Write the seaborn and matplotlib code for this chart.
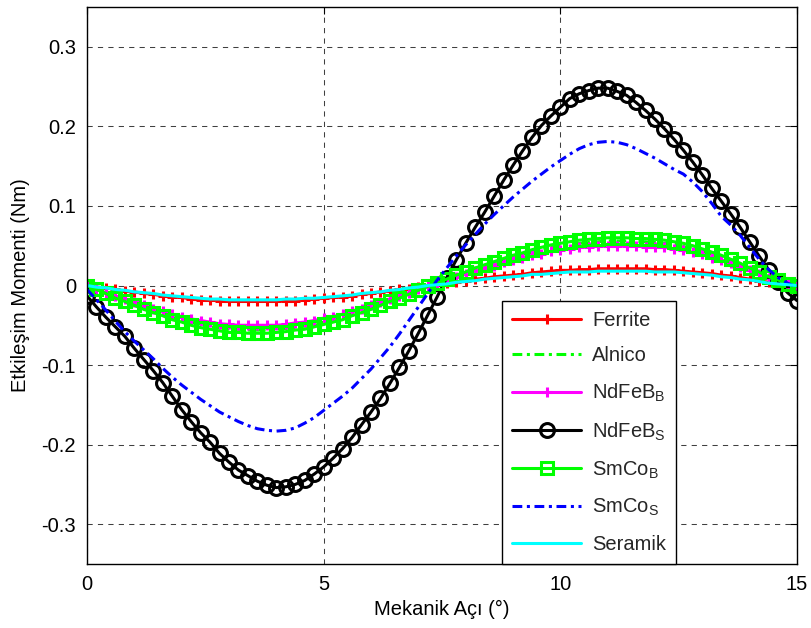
import numpy as np
import pandas as pd
import matplotlib
matplotlib.use("Agg")
import matplotlib.pyplot as plt
import seaborn as sns

# ---------------- data ----------------
aci = [round(0.2 * i, 1) for i in range(76)]  # mechanical angle grid (deg)

ferrite = [0, -0.002, -0.003, -0.005, -0.007, -0.008, -0.010, -0.011, -0.013, -0.014,
           -0.015, -0.017, -0.018, -0.018, -0.019, -0.020, -0.020, -0.020, -0.020, -0.020,
           -0.020, -0.019, -0.019, -0.018, -0.017, -0.016, -0.015, -0.014, -0.013, -0.011,
           -0.010, -0.008, -0.007, -0.005, -0.004, -0.002, 0.000, 0.001, 0.003, 0.004,
           0.006, 0.008, 0.009, 0.011, 0.012, 0.013, 0.014, 0.016, 0.017, 0.018,
           0.019, 0.019, 0.020, 0.020, 0.021, 0.021, 0.021, 0.021, 0.021, 0.021,
           0.020, 0.020, 0.019, 0.018, 0.017, 0.016, 0.015, 0.013, 0.012, 0.010,
           0.008, 0.006, 0.004, 0.002, 0.001, 0.000]

alnico = [0, -0.005, -0.010, -0.015, -0.019, -0.024, -0.028, -0.032, -0.036, -0.040,
          -0.043, -0.046, -0.049, -0.052, -0.053, -0.055, -0.055, -0.056, -0.056, -0.056,
          -0.055, -0.054, -0.053, -0.051, -0.049, -0.046, -0.043, -0.040, -0.036, -0.032,
          -0.028, -0.024, -0.019, -0.015, -0.010, -0.006, -0.001, 0.003, 0.007, 0.012,
          0.016, 0.020, 0.024, 0.028, 0.032, 0.035, 0.039, 0.042, 0.045, 0.048,
          0.050, 0.052, 0.053, 0.054, 0.055, 0.056, 0.056, 0.056, 0.055, 0.055,
          0.054, 0.053, 0.052, 0.049, 0.046, 0.043, 0.039, 0.035, 0.031, 0.026,
          0.021, 0.016, 0.011, 0.006, 0.002, -0.001]

ndfeb_b = [0, -0.005, -0.009, -0.013, -0.017, -0.021, -0.025, -0.029, -0.032, -0.036,
           -0.039, -0.042, -0.044, -0.046, -0.048, -0.049, -0.050, -0.050, -0.050, -0.050,
           -0.050, -0.049, -0.047, -0.046, -0.044, -0.041, -0.039, -0.036, -0.032, -0.029,
           -0.025, -0.021, -0.017, -0.013, -0.009, -0.005, -0.001, 0.003, 0.007, 0.011,
           0.014, 0.018, 0.022, 0.025, 0.029, 0.032, 0.035, 0.038, 0.040, 0.043,
           0.045, 0.046, 0.048, 0.049, 0.050, 0.050, 0.050, 0.050, 0.050, 0.049,
           0.049, 0.048, 0.046, 0.044, 0.042, 0.039, 0.035, 0.032, 0.028, 0.023,
           0.019, 0.014, 0.010, 0.006, 0.002, -0.001]

ndfeb_s = [-0.013, -0.027, -0.040, -0.052, -0.064, -0.079, -0.093, -0.107, -0.122, -0.139,
           -0.156, -0.171, -0.185, -0.197, -0.211, -0.222, -0.232, -0.239, -0.246, -0.251,
           -0.254, -0.253, -0.250, -0.245, -0.237, -0.228, -0.217, -0.205, -0.191, -0.175,
           -0.159, -0.142, -0.123, -0.103, -0.082, -0.060, -0.037, -0.014, 0.010, 0.032,
           0.053, 0.073, 0.092, 0.112, 0.132, 0.151, 0.169, 0.186, 0.201, 0.213,
           0.224, 0.235, 0.241, 0.245, 0.248, 0.248, 0.244, 0.239, 0.230, 0.220,
           0.209, 0.197, 0.184, 0.170, 0.155, 0.139, 0.122, 0.106, 0.090, 0.073,
           0.055, 0.037, 0.020, 0.004, -0.009, -0.019]

smco_b = [0, -0.005, -0.010, -0.016, -0.020, -0.025, -0.030, -0.034, -0.038, -0.043,
          -0.046, -0.050, -0.053, -0.055, -0.057, -0.059, -0.059, -0.060, -0.060, -0.060,
          -0.059, -0.058, -0.056, -0.055, -0.052, -0.049, -0.046, -0.043, -0.038, -0.034,
          -0.030, -0.025, -0.020, -0.016, -0.011, -0.006, -0.001, 0.003, 0.008, 0.013,
          0.017, 0.022, 0.026, 0.030, 0.034, 0.038, 0.041, 0.045, 0.048, 0.051,
          0.053, 0.055, 0.057, 0.058, 0.059, 0.060, 0.060, 0.060, 0.059, 0.059,
          0.058, 0.057, 0.055, 0.053, 0.050, 0.046, 0.042, 0.038, 0.033, 0.028,
          0.022, 0.017, 0.011, 0.007, 0.002, -0.001]

smco_s = [-0.005, -0.018, -0.031, -0.045, -0.058, -0.070, -0.081, -0.092, -0.104, -0.115,
          -0.125, -0.134, -0.143, -0.151, -0.159, -0.165, -0.171, -0.176, -0.180, -0.182,
          -0.183, -0.182, -0.179, -0.173, -0.166, -0.157, -0.148, -0.139, -0.129, -0.117,
          -0.105, -0.091, -0.077, -0.061, -0.044, -0.027, -0.010, 0.007, 0.022, 0.037,
          0.051, 0.064, 0.077, 0.089, 0.100, 0.111, 0.121, 0.131, 0.140, 0.149,
          0.157, 0.165, 0.172, 0.177, 0.180, 0.181, 0.180, 0.177, 0.172, 0.166,
          0.160, 0.153, 0.146, 0.140, 0.130, 0.118, 0.103, 0.087, 0.076, 0.063,
          0.048, 0.033, 0.020, 0.010, 0.003, -0.002]

seramik = [0, -0.002, -0.003, -0.005, -0.006, -0.008, -0.009, -0.010, -0.012, -0.013,
           -0.014, -0.015, -0.016, -0.017, -0.017, -0.018, -0.018, -0.018, -0.018, -0.018,
           -0.018, -0.017, -0.017, -0.016, -0.016, -0.015, -0.014, -0.013, -0.012, -0.010,
           -0.009, -0.008, -0.006, -0.005, -0.003, -0.002, 0.000, 0.001, 0.002, 0.004,
           0.005, 0.006, 0.008, 0.009, 0.010, 0.011, 0.012, 0.014, 0.014, 0.015,
           0.016, 0.017, 0.017, 0.017, 0.018, 0.018, 0.018, 0.018, 0.018, 0.018,
           0.017, 0.017, 0.017, 0.016, 0.015, 0.014, 0.013, 0.011, 0.010, 0.008,
           0.007, 0.005, 0.003, 0.002, 0.001, 0.000]

series_labels = ["Ferrite", "Alnico", r"NdFeB$_\mathregular{B}$", r"NdFeB$_\mathregular{S}$",
                 r"SmCo$_\mathregular{B}$", r"SmCo$_\mathregular{S}$", "Seramik"]
xticks = [0, 5, 10, 15]
yticks = [-0.3, -0.2, -0.1, 0, 0.1, 0.2, 0.3]
ytick_labels = ["-0.3", "-0.2", "-0.1", "0", "0.1", "0.2", "0.3"]

# ---------------- style ----------------
sns.set_theme(style="white")
plt.rcParams["font.family"] = ["Liberation Sans", "DejaVu Sans"]
plt.rcParams["axes.unicode_minus"] = False
plt.rcParams["mathtext.default"] = "regular"

dashdot = (0, (3.2, 1.5, 1, 1.5))
styles = [
    dict(color="#ff0000", marker="+", markersize=7.5, mew=2.2, mfc="#ff0000", ls="-"),
    dict(color="#00ff00", marker="None", markersize=0, mew=0, mfc="none", ls=dashdot),
    dict(color="#ff00ff", marker="+", markersize=7.5, mew=2.2, mfc="#ff00ff", ls="-"),
    dict(color="#000000", marker="o", markersize=10, mew=2.2, mfc="none", ls="-"),
    dict(color="#00ff00", marker="s", markersize=8.5, mew=2.2, mfc="none", ls="-"),
    dict(color="#0000ff", marker="None", markersize=0, mew=0, mfc="none", ls=dashdot),
    dict(color="#00ffff", marker="None", markersize=0, mew=0, mfc="none", ls="-"),
]
data = [ferrite, alnico, ndfeb_b, ndfeb_s, smco_b, smco_s, seramik]

fig = plt.figure(figsize=(8.11, 6.28), dpi=100)
ax = fig.add_axes([87 / 811, (628 - 564) / 628, 710 / 811, 557 / 628])

for vals, lab, st in zip(data, series_labels, styles):
    df = pd.DataFrame({"aci": aci, "moment": vals})
    sns.lineplot(data=df, x="aci", y="moment", ax=ax, label=lab, color=st["color"],
                 linewidth=2.2, sort=False)
    ln = ax.lines[-1]
    ln.set_linestyle(st["ls"])
    ln.set_marker(st["marker"])
    ln.set_markersize(st["markersize"])
    ln.set_markeredgewidth(st["mew"])
    ln.set_markeredgecolor(st["color"])
    ln.set_markerfacecolor(st["mfc"])
    ln.set_dash_capstyle("butt")

ax.set_xlim(0, 15)
ax.set_ylim(-0.35, 0.35)
ax.set_xticks(xticks)
ax.set_xticklabels([str(t) for t in xticks])
ax.set_yticks(yticks)
ax.set_yticklabels(ytick_labels)
ax.grid(True, color="#404040", linestyle=(0, (5, 5)), linewidth=0.75)
ax.tick_params(direction="in", top=True, right=True, length=5, width=0.8,
               labelsize=14.5, colors="black", pad=8)
for sp in ax.spines.values():
    sp.set_color("black")
    sp.set_linewidth(1)
ax.set_xlabel("Mekanik Açı (°)", fontsize=14.5, color="black", labelpad=4)
ax.set_ylabel("Etkileşim Momenti (Nm)", fontsize=14.5, color="black", labelpad=8)

handles, labels = ax.get_legend_handles_labels()
leg = ax.legend(handles, labels, loc="lower left", bbox_to_anchor=(0.585, 0.0),
                fontsize=14.5, frameon=True, fancybox=False, edgecolor="black",
                framealpha=1, handlelength=3.4, labelspacing=0.82, borderpad=0.5,
                handletextpad=0.55, borderaxespad=0, markerscale=1.0)
leg.get_frame().set_linewidth(1)

fig.savefig("out.png", dpi=100)
